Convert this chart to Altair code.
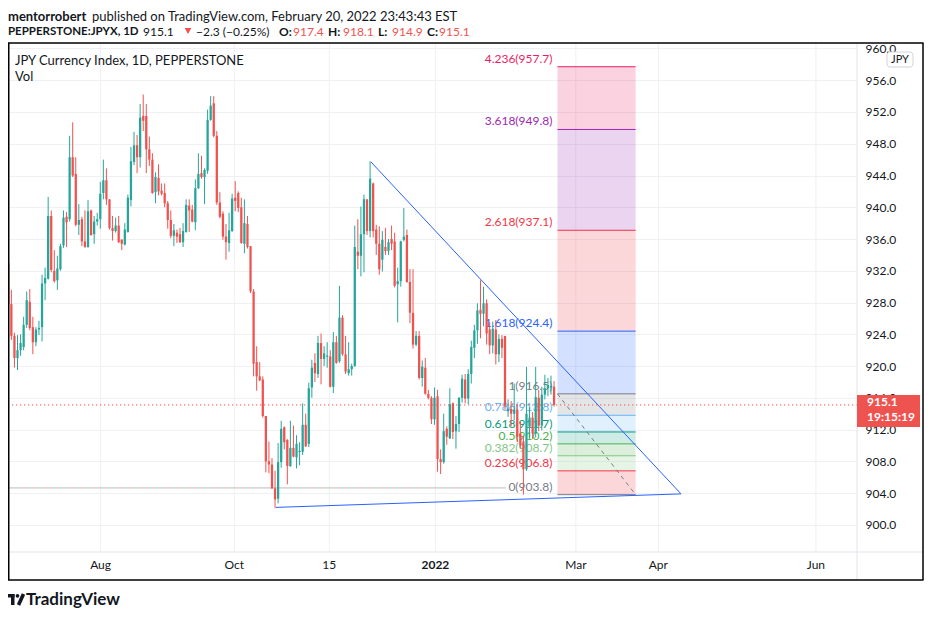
import altair as alt
import pandas as pd
import numpy as np

# ---------------- data ----------------
opens = [
    933.0, 927.8, 923.8, 921.0, 922.0, 922.4, 925.2, 928.1, 924.9, 923.0,
    924.6, 924.9, 930.4, 931.0, 938.9, 932.0, 930.8, 932.2, 935.2, 938.8,
    938.5, 946.3, 944.2, 937.8, 938.5, 935.7, 935.0, 939.6, 936.6, 938.2,
    938.5, 941.8, 943.4, 941.0, 937.4, 937.0, 937.7, 935.9, 935.3, 936.9,
    940.9, 945.7, 947.8, 946.3, 951.5, 951.5, 947.3, 946.0, 941.9, 943.7,
    942.1, 941.8, 940.5, 938.4, 936.4, 936.8, 936.6, 935.6, 936.9, 940.2,
    939.7, 938.1, 942.4, 944.3, 943.8, 944.6, 951.0, 953.1, 949.0, 940.6,
    939.2, 936.3, 935.5, 937.0, 941.2, 941.8, 940.0, 935.4, 937.9, 935.1,
    929.4, 920.5, 918.7, 918.3, 913.7, 908.0, 907.6, 904.6, 903.3, 907.9,
    912.3, 910.7, 907.4, 909.7, 908.5, 909.2, 909.2, 912.6, 910.2, 917.3,
    920.4, 919.0, 922.9, 920.9, 921.2, 921.2, 917.4, 923.0, 920.6, 926.1,
    921.5, 919.1, 919.6, 920.0, 934.4, 933.9, 936.6, 941.0, 937.0, 943.0,
    937.2, 935.4, 933.4, 935.0, 934.5, 936.0, 935.7, 930.3, 930.7, 935.9,
    936.5, 930.6, 926.7, 922.7, 923.8, 918.5, 919.8, 916.5, 916.0, 913.3,
    916.2, 908.3, 907.9, 912.1, 910.9, 915.3, 911.8, 912.7, 916.0, 918.3,
    915.9, 919.0, 922.3, 924.5, 927.1, 926.6, 927.9, 924.6, 922.6, 924.6,
    921.5, 923.4, 923.8, 914.3, 914.6, 914.0, 914.5, 911.5, 910.5, 907.0,
    912.4, 913.5, 911.5, 916.0, 912.5, 916.4, 917.2, 917.3, 917.4,
]
highs = [
    937.6, 929.6, 924.2, 923.9, 924.0, 926.2, 929.4, 929.7, 926.2, 924.9,
    925.7, 931.5, 932.4, 941.3, 939.6, 934.6, 933.9, 935.4, 939.6, 939.4,
    949.0, 950.7, 946.3, 940.4, 938.8, 939.6, 940.9, 939.7, 938.9, 939.3,
    943.2, 946.0, 944.9, 941.0, 938.9, 938.7, 938.9, 936.0, 938.0, 941.6,
    947.6, 949.5, 949.1, 953.0, 954.2, 953.0, 948.9, 946.8, 944.4, 945.4,
    943.0, 943.0, 940.8, 939.6, 937.9, 937.2, 937.4, 938.0, 941.0, 941.0,
    940.3, 943.5, 946.8, 946.5, 944.9, 952.3, 954.0, 954.0, 949.6, 941.9,
    939.5, 937.9, 939.3, 941.7, 943.3, 942.0, 941.2, 941.0, 938.9, 935.1,
    929.7, 922.5, 920.5, 918.7, 913.7, 910.5, 908.4, 906.8, 910.3, 913.1,
    912.4, 910.8, 913.1, 912.5, 911.3, 910.4, 915.3, 914.0, 917.9, 920.8,
    921.6, 923.8, 924.1, 922.5, 923.0, 922.0, 924.3, 923.8, 930.1, 926.4,
    923.8, 923.0, 920.3, 937.7, 938.5, 940.1, 941.6, 941.0, 945.8, 943.1,
    937.8, 937.6, 937.0, 937.4, 936.0, 937.7, 936.8, 932.4, 935.8, 939.9,
    937.2, 932.2, 932.2, 924.4, 924.4, 920.7, 921.0, 917.0, 916.2, 917.3,
    917.0, 909.5, 914.0, 912.4, 917.2, 915.4, 913.7, 916.1, 918.9, 919.0,
    919.6, 923.2, 925.2, 927.9, 930.8, 930.0, 928.4, 925.5, 925.6, 925.8,
    924.0, 923.9, 923.8, 915.8, 915.6, 917.8, 915.2, 913.0, 911.2, 919.9,
    914.8, 914.2, 919.9, 917.0, 917.4, 918.9, 918.5, 918.8, 918.1,
]
lows = [
    927.5, 923.3, 919.8, 919.5, 921.3, 922.0, 924.8, 924.5, 921.5, 922.5,
    923.9, 923.1, 928.3, 930.9, 931.8, 930.5, 929.6, 932.0, 934.9, 935.0,
    938.2, 943.8, 937.6, 936.5, 935.1, 934.9, 934.9, 936.4, 935.4, 937.7,
    937.3, 941.0, 940.3, 937.2, 935.8, 936.8, 935.5, 934.6, 935.2, 936.8,
    940.1, 945.3, 944.3, 945.0, 949.6, 944.3, 945.2, 941.7, 940.5, 941.5,
    941.5, 940.0, 937.3, 936.1, 935.1, 935.5, 935.5, 935.0, 936.8, 936.9,
    938.1, 937.1, 942.3, 943.6, 940.4, 944.2, 950.9, 948.8, 940.3, 938.6,
    935.9, 933.4, 934.4, 936.9, 939.5, 939.4, 935.4, 934.2, 934.8, 929.2,
    918.7, 916.9, 918.1, 913.5, 906.6, 906.5, 904.5, 902.1, 902.7, 907.2,
    909.5, 905.1, 907.3, 908.5, 907.1, 907.5, 908.8, 909.8, 909.8, 916.0,
    918.0, 918.5, 917.7, 920.0, 919.8, 917.3, 916.6, 920.3, 920.4, 921.3,
    919.0, 918.8, 918.8, 919.9, 932.2, 931.3, 931.8, 936.5, 936.2, 936.2,
    934.0, 931.5, 931.9, 934.0, 934.0, 934.6, 929.9, 925.5, 930.0, 935.7,
    930.5, 925.4, 922.2, 922.5, 918.3, 917.4, 916.4, 915.8, 912.7, 912.6,
    906.7, 906.4, 907.7, 910.1, 910.8, 910.8, 909.6, 911.7, 915.4, 915.3,
    915.2, 917.8, 921.0, 922.8, 923.5, 925.0, 922.7, 921.5, 921.6, 920.2,
    920.5, 921.0, 914.5, 913.6, 912.4, 913.2, 910.4, 909.6, 903.8, 906.8,
    911.0, 910.8, 911.0, 911.8, 911.9, 915.8, 916.2, 916.4, 914.9,
]
closes = [
    927.8, 923.8, 921.0, 922.0, 922.9, 925.2, 928.3, 924.8, 923.0, 924.6,
    924.8, 930.4, 931.1, 938.9, 932.1, 930.7, 932.3, 935.1, 938.7, 938.1,
    946.3, 944.0, 937.8, 938.4, 935.7, 935.0, 939.5, 936.5, 938.2, 938.5,
    941.7, 943.4, 941.0, 937.4, 937.0, 937.7, 935.6, 935.4, 937.2, 941.2,
    945.8, 947.8, 946.3, 951.3, 950.9, 947.3, 946.0, 941.8, 943.8, 942.0,
    941.7, 940.5, 938.4, 936.4, 937.1, 936.3, 935.6, 937.0, 940.3, 939.6,
    938.2, 942.4, 944.2, 943.8, 944.7, 951.0, 952.8, 949.0, 940.6, 938.8,
    936.3, 935.6, 937.1, 941.1, 940.8, 939.9, 935.5, 938.0, 935.0, 929.4,
    920.3, 918.7, 918.2, 913.7, 908.0, 907.6, 904.6, 903.2, 907.9, 912.1,
    910.4, 907.4, 909.7, 908.6, 910.2, 909.3, 912.6, 909.9, 917.2, 919.8,
    919.1, 922.9, 920.9, 921.6, 921.3, 917.4, 923.0, 920.4, 926.1, 921.5,
    919.3, 919.6, 920.0, 935.0, 933.9, 936.6, 941.0, 937.0, 943.6, 937.0,
    935.4, 932.2, 935.9, 934.5, 935.6, 935.4, 930.1, 930.7, 935.7, 936.3,
    930.6, 926.7, 922.7, 923.8, 918.5, 919.9, 916.5, 916.0, 913.3, 916.0,
    908.3, 907.9, 911.8, 911.1, 915.2, 911.7, 912.7, 916.0, 918.4, 915.9,
    919.0, 922.4, 924.5, 927.0, 926.6, 927.9, 924.1, 922.6, 924.7, 921.5,
    923.4, 922.3, 915.0, 914.6, 914.0, 914.5, 911.1, 910.0, 907.0, 914.0,
    913.5, 911.5, 916.1, 912.5, 916.4, 917.2, 917.6, 917.5, 915.1,
]

# time-axis ticks (position in bar units) and labels
tick_pos = [30.1, 73.7, 104.7, 139.3, 185.1, 212.0, 263.4]
tick_labels = ["Aug", "Oct", "15", "2022", "Mar", "Apr", "Jun"]
tick_bold = [False, False, False, True, False, False, False]

# price-axis ticks
price_ticks = [900, 904, 908, 912, 916, 920, 924, 928, 932, 936, 940, 944, 948, 952, 956, 960]

# Fibonacci extension drawing
fib_ratios = ["0", "0.236", "0.382", "0.5", "0.618", "0.786", "1", "1.618", "2.618", "3.618", "4.236"]
fib_prices = [903.8, 906.8, 908.7, 910.2, 911.7, 913.8, 916.5, 924.4, 937.1, 949.8, 957.7]
fib_colors = ["#787b86", "#f23645", "#81c784", "#4caf50", "#089981", "#64b5f6",
              "#787b86", "#2962ff", "#f23645", "#9c27b0", "#e91e63"]
fib_x_start = 179.1
fib_x_end = 204.6

# triangle trend lines (bar, price)
trend_x1 = [118.3, 87.3]
trend_y1 = [945.7, 902.2]
trend_x2 = [219.4, 219.4]
trend_y2 = [903.9, 903.9]

# horizontal guide lines
last_close = closes[-1]
low_line_price = 904.65
low_line_end = 162.3

# ---------------- chart ----------------
W, H = 849, 509
X_DOM = [-0.1, 276.8]
Y_DOM = [896.58, 960.69]
UP, DOWN = "#26a69a", "#ef5350"
INK = "#131722"
FONT = "Lato"
GRID = "#eef0f3"

xs = alt.Scale(domain=X_DOM, nice=False, zero=False)
ys = alt.Scale(domain=Y_DOM, nice=False, zero=False)

yaxis = alt.Axis(orient="right", values=price_ticks, format=".1f",
                 labelFont=FONT, labelFontSize=12, labelColor=INK, labelPadding=8,
                 ticks=False, domain=False, grid=True, gridColor=GRID, gridWidth=1,
                 title=None, labelOverlap=False)


def X(f):
    return alt.X(f, scale=xs, axis=None)


def Y(f):
    return alt.Y(f, scale=ys, axis=yaxis)


n = len(opens)
df = pd.DataFrame({"i": np.arange(n), "o": opens, "h": highs, "l": lows, "c": closes})
df["hi"] = df[["h", "o", "c"]].max(axis=1)
df["lo"] = df[["l", "o", "c"]].min(axis=1)
df["col"] = np.where(df["c"] >= df["o"], UP, DOWN)
top = df[["o", "c"]].max(axis=1)
bot = df[["o", "c"]].min(axis=1)
mid = (top + bot) / 2
small = (top - bot) < 0.14
df["top"] = np.where(small, mid + 0.07, top)
df["bot"] = np.where(small, mid - 0.07, bot)
df["x0"] = df["i"] - 0.37
df["x1"] = df["i"] + 0.37

wicks = alt.Chart(df).mark_rule(strokeWidth=1).encode(
    x=X("i:Q"), y=Y("lo:Q"), y2="hi:Q", color=alt.Color("col:N", scale=None))
bodies = alt.Chart(df).mark_rect().encode(
    x=X("x0:Q"), x2="x1:Q", y=Y("bot:Q"), y2="top:Q", color=alt.Color("col:N", scale=None))

ticks_df = pd.DataFrame({"pos": tick_pos, "label": tick_labels, "bold": tick_bold})
vgrid = alt.Chart(ticks_df).mark_rule(color=GRID, strokeWidth=1).encode(
    x=X("pos:Q"), y=alt.value(0), y2=alt.value(H))
tlabels_n = alt.Chart(ticks_df[~ticks_df["bold"]]).mark_text(
    font=FONT, fontSize=12, color=INK, baseline="middle").encode(
    x=X("pos:Q"), y=alt.value(522), text="label:N")
tlabels_b = alt.Chart(ticks_df[ticks_df["bold"]]).mark_text(
    font=FONT, fontSize=12, fontWeight="bold", color=INK, baseline="middle").encode(
    x=X("pos:Q"), y=alt.value(522), text="label:N")

fib_df = pd.DataFrame({"ratio": fib_ratios, "price": fib_prices, "color": fib_colors})
fib_df["label"] = fib_df["ratio"] + "(" + fib_df["price"].map(lambda v: f"{v:.1f}") + ")"
fib_df["xs"] = fib_x_start
fib_df["xe"] = fib_x_end
band_df = pd.DataFrame({"lo": fib_prices[:-1], "hi": fib_prices[1:], "color": fib_colors[1:]})
band_df["xs"] = fib_x_start
band_df["xe"] = fib_x_end

bands = alt.Chart(band_df).mark_rect(opacity=0.2).encode(
    x=X("xs:Q"), x2="xe:Q", y=Y("lo:Q"), y2="hi:Q", color=alt.Color("color:N", scale=None))
levels = alt.Chart(fib_df).mark_rule(strokeWidth=1).encode(
    x=X("xs:Q"), x2="xe:Q", y=Y("price:Q"), color=alt.Color("color:N", scale=None))
flabels = alt.Chart(fib_df).mark_text(
    font=FONT, fontSize=12, align="right", baseline="bottom", dx=-5, dy=-1).encode(
    x=X("xs:Q"), y=Y("price:Q"), text="label:N", color=alt.Color("color:N", scale=None))
diag_df = pd.DataFrame({"x": [fib_x_start], "x2": [fib_x_end],
                        "y": [fib_prices[6]], "y2": [fib_prices[0]]})
diag = alt.Chart(diag_df).mark_rule(color="#787b86", strokeWidth=1, strokeDash=[4, 4]).encode(
    x=X("x:Q"), x2="x2:Q", y=Y("y:Q"), y2="y2:Q")

trend_df = pd.DataFrame({"x": trend_x1, "y": trend_y1, "x2": trend_x2, "y2": trend_y2})
trends = alt.Chart(trend_df).mark_rule(color="#2962ff", strokeWidth=1).encode(
    x=X("x:Q"), x2="x2:Q", y=Y("y:Q"), y2="y2:Q")

last_df = pd.DataFrame({"p": [last_close]})
last_line = alt.Chart(last_df).mark_rule(color=DOWN, strokeWidth=1, strokeDash=[1.3, 2.7]).encode(
    x=alt.value(0), x2=alt.value(W), y=Y("p:Q"))
low_df = pd.DataFrame({"p": [low_line_price], "xa": [X_DOM[0]], "xb": [low_line_end]})
low_line_a = alt.Chart(low_df).mark_rule(color="#f7a3a3", strokeWidth=1, strokeDash=[3, 3]).encode(
    x=X("xa:Q"), x2="xb:Q", y=Y("p:Q"))
low_line_b = alt.Chart(low_df).mark_rule(color="#86d3ca", strokeWidth=1, strokeDash=[3, 3],
                                         strokeDashOffset=3).encode(
    x=X("xa:Q"), x2="xb:Q", y=Y("p:Q"))

BLANK = pd.DataFrame({"k": [0]})


def ptext(s, x, y, size=13, color=INK, weight="normal", align="left"):
    return alt.Chart(BLANK).mark_text(text=s, font=FONT, fontSize=size, color=color,
                                      fontWeight=weight, align=align, baseline="middle").encode(
        x=alt.value(x), y=alt.value(y))


def prule(x, y, x2=None, y2=None, color="#000000", width=1.0):
    enc = {"x": alt.value(x), "y": alt.value(y)}
    if x2 is not None:
        enc["x2"] = alt.value(x2)
    if y2 is not None:
        enc["y2"] = alt.value(y2)
    return alt.Chart(BLANK).mark_rule(color=color, strokeWidth=width).encode(**enc)


def prect(x, y, x2, y2, fill, stroke=None, radius=0):
    kw = {"fill": fill, "cornerRadius": radius}
    if stroke is not None:
        kw["stroke"] = stroke
        kw["strokeWidth"] = 1
    return alt.Chart(BLANK).mark_rect(**kw).encode(
        x=alt.value(x), x2=alt.value(x2), y=alt.value(y), y2=alt.value(y2))


frame = [
    prule(849, 0, y2=537, color="#e0e3eb"),
    prule(0, 509, x2=915, color="#e0e3eb"),
    prule(0, 0, x2=915.5, color="#000000", width=1.5),
    prule(0.75, 0, y2=537, color="#000000", width=1.5),
    prule(915, 0, y2=537, color="#000000", width=1.5),
    prule(0, 537, x2=915.5, color="#000000", width=1.5),
]

logo = [
    prect(0, 551, 6.5, 554.5, INK),
    prect(3, 551, 6.5, 562, INK),
    alt.Chart(BLANK).mark_point(shape="circle", filled=True, size=14, color=INK, opacity=1).encode(
        x=alt.value(9.5), y=alt.value(552.8)),
    alt.Chart(BLANK).mark_rule(color=INK, strokeWidth=3.6).encode(
        x=alt.value(15.5), y=alt.value(551), x2=alt.value(10.5), y2=alt.value(562)),
]

header = [
    ptext("mentorrobert", 0, -26.5, size=13, weight="bold"),
    ptext("published on TradingView.com, February 20, 2022 23:43:43 EST", 84, -26.5, size=13),
    ptext("PEPPERSTONE:JPYX, 1D", 0, -11.5, size=11.5, weight="bold"),
    ptext("915.1", 135, -11.5, size=12),
    alt.Chart(BLANK).mark_point(shape="triangle-down", filled=True, size=45, color=DOWN, opacity=1).encode(
        x=alt.value(180), y=alt.value(-12)),
    ptext("\u22122.3 (\u22120.25%)", 188, -11.5, size=12),
    ptext("O:", 271, -11.5, size=12, weight="bold"),
    ptext("917.4", 285, -11.5, size=12, color=DOWN),
    ptext("H:", 320, -11.5, size=12, weight="bold"),
    ptext("918.1", 335, -11.5, size=12, color=DOWN),
    ptext("L:", 370, -11.5, size=12, weight="bold"),
    ptext("914.9", 384, -11.5, size=12, color=DOWN),
    ptext("C:", 419, -11.5, size=12, weight="bold"),
    ptext("915.1", 431, -11.5, size=12, color=DOWN),
    ptext("JPY Currency Index, 1D, PEPPERSTONE", 7, 18, size=13),
    ptext("Vol", 7, 34, size=13),
    prect(879, 9, 905, 24, "#ffffff", stroke="#d1d4dc", radius=3),
    ptext("JPY", 892, 16.5, size=11, align="center"),
    prect(849, 352, 912, 384, "#ef5350"),
    ptext("915.1", 859, 359, size=12, color="#ffffff", weight="bold"),
    ptext("19:15:19", 859, 374, size=12, color="#ffffff", weight="bold"),
    ptext("TradingView", 18, 557, size=17, weight="bold"),
]

chart = alt.layer(
    vgrid, bands, levels, diag, flabels, low_line_a, low_line_b, last_line,
    wicks, bodies, trends, tlabels_n, tlabels_b, *frame, *logo, *header,
).properties(
    width=W, height=H,
    autosize=alt.AutoSizeParams(type="none"),
    padding={"left": 0, "top": 35, "right": 67, "bottom": 57},
    background="white",
).configure_view(stroke=None)

chart.save("out.html", embed_options={"renderer": "svg", "actions": False})
